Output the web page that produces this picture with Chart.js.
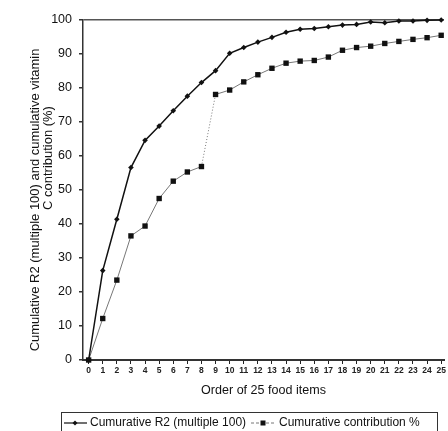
<!DOCTYPE html>
<html lang="en">
<head>
  <meta charset="UTF-8" />
  <title>Cumulative R2 and vitamin C contribution</title>
  <script src="https://cdn.jsdelivr.net/npm/chart.js"></script>
  <style>
    body { margin: 0; background: #fff; }
    canvas { display: block; }
  </style>
</head>
<body>
  <canvas id="chart" width="448" height="431"></canvas>

  <script>
    // order of the 25 food items (x axis ticks too)
    const order = [0, 1, 2, 3, 4, 5, 6, 7, 8, 9, 10, 11, 12, 13, 14, 15, 16, 17, 18, 19, 20, 21, 22, 23, 24, 25];
    const cumR2 = [0, 26.3, 41.4, 56.6, 64.6, 68.8, 73.3, 77.6, 81.6, 85.1, 90.2, 91.9, 93.5, 94.9, 96.4, 97.3,
                   97.5, 98.0, 98.5, 98.7, 99.4, 99.2, 99.7, 99.7, 99.9, 100];
    const cumContribution = [0, 12.2, 23.5, 36.5, 39.4, 47.5, 52.6, 55.3, 56.9, 78.1, 79.4, 81.8, 83.9, 85.8, 87.3,
                             87.9, 88.1, 89.1, 91.1, 91.9, 92.3, 93.1, 93.7, 94.3, 94.8, 95.5];
    const yTicks = [0, 10, 20, 30, 40, 50, 60, 70, 80, 90, 100];
    const seriesNames = ['Cumurative R2 (multiple 100)', 'Cumurative contribution %'];
    const xTitle = 'Order of 25 food items';
    const yTitle = ['Cumulative R2 (multiple 100) and cumulative vitamin', 'C contribution (%)'];

    const FONT = '"Liberation Sans", Arial, sans-serif';

    // pick a font size so the text is about `width` px wide
    function fitFont(ctx, text, width) {
      ctx.font = '12px ' + FONT;
      const size = 12 * width / ctx.measureText(text).width;
      ctx.font = size.toFixed(2) + 'px ' + FONT;
      return size;
    }

    // titles and the boxed legend are drawn by hand
    const extraText = {
      id: 'extraText',
      afterDraw(chart) {
        const ctx = chart.ctx;
        const a = chart.chartArea;
        ctx.save();
        ctx.fillStyle = '#111';
        ctx.textAlign = 'center';
        ctx.textBaseline = 'middle';

        fitFont(ctx, xTitle, 125);
        ctx.fillText(xTitle, (a.left + a.right) / 2, 391);

        ctx.save();
        const ys = fitFont(ctx, yTitle[0], 303);
        ctx.translate(35, 200);
        ctx.rotate(-Math.PI / 2);
        ctx.fillText(yTitle[0], 0, 0);
        ctx.font = ys.toFixed(2) + 'px ' + FONT;
        ctx.fillText(yTitle[1], 42, 13);
        ctx.restore();

        // legend
        ctx.strokeStyle = '#333';
        ctx.lineWidth = 1;
        ctx.strokeRect(61.5, 412.5, 376, 20);
        ctx.textAlign = 'left';
        ctx.font = '12px ' + FONT;

        ctx.beginPath();
        ctx.moveTo(64, 423); ctx.lineTo(87, 423);
        ctx.strokeStyle = '#111'; ctx.lineWidth = 1.2; ctx.stroke();
        ctx.beginPath();
        ctx.moveTo(75, 420.5); ctx.lineTo(77.5, 423); ctx.lineTo(75, 425.5); ctx.lineTo(72.5, 423); ctx.closePath();
        ctx.fill();
        ctx.fillText(seriesNames[0], 90, 423);

        ctx.beginPath();
        ctx.moveTo(251, 423); ctx.lineTo(275, 423);
        ctx.strokeStyle = '#777'; ctx.lineWidth = 1; ctx.setLineDash([3, 2]); ctx.stroke();
        ctx.setLineDash([]);
        ctx.fillRect(260.5, 420.5, 5, 5);
        ctx.fillText(seriesNames[1], 279, 423);
        ctx.restore();
      }
    };

    new Chart(document.getElementById('chart').getContext('2d'), {
      type: 'line',
      data: {
        datasets: [
          {
            label: seriesNames[0],
            data: order.map((x, i) => ({ x: x, y: cumR2[i] })),
            borderColor: '#111',
            backgroundColor: '#111',
            borderWidth: 1.5,
            pointStyle: 'rectRot',
            pointRadius: 2.8,
            pointBorderWidth: 0,
            clip: false
          },
          {
            label: seriesNames[1],
            data: order.map((x, i) => ({ x: x, y: cumContribution[i] })),
            borderColor: '#777',
            backgroundColor: '#111',
            borderWidth: 1,
            pointStyle: 'rect',
            pointRadius: 3.8,
            pointBorderWidth: 0,
            clip: false,
            segment: {
              borderDash: c => (c.p0DataIndex === 8 ? [1, 2] : undefined)
            }
          }
        ]
      },
      options: {
        responsive: false,
        animation: false,
        layout: { padding: { top: 20, right: 2, left: 0, bottom: 0 } },
        plugins: { legend: { display: false }, tooltip: { enabled: false } },
        scales: {
          x: {
            type: 'linear',
            min: -0.4,
            max: 25.2,
            afterBuildTicks: s => { s.ticks = order.map(v => ({ value: v })); },
            afterFit: s => { s.height = 71; },
            grid: { drawOnChartArea: false, tickLength: 4, color: '#222' },
            border: { color: '#333', width: 2 },
            ticks: { font: { size: 8.5, weight: 'bold', family: FONT }, color: '#222', padding: 2, maxRotation: 0, autoSkip: false }
          },
          y: {
            min: 0,
            max: 100,
            afterBuildTicks: s => { s.ticks = yTicks.map(v => ({ value: v })); },
            afterFit: s => { s.width = 83; },
            grid: {
              color: c => (c.tick && c.tick.value === 100 ? '#555' : 'rgba(0,0,0,0)'),
              tickColor: '#333',
              tickLength: 4,
              lineWidth: 1.5
            },
            border: { color: '#333', width: 1.5 },
            ticks: { font: { size: 12.5, family: FONT }, color: '#111', padding: 7 }
          }
        }
      },
      plugins: [extraText]
    });
  </script>
</body>
</html>
